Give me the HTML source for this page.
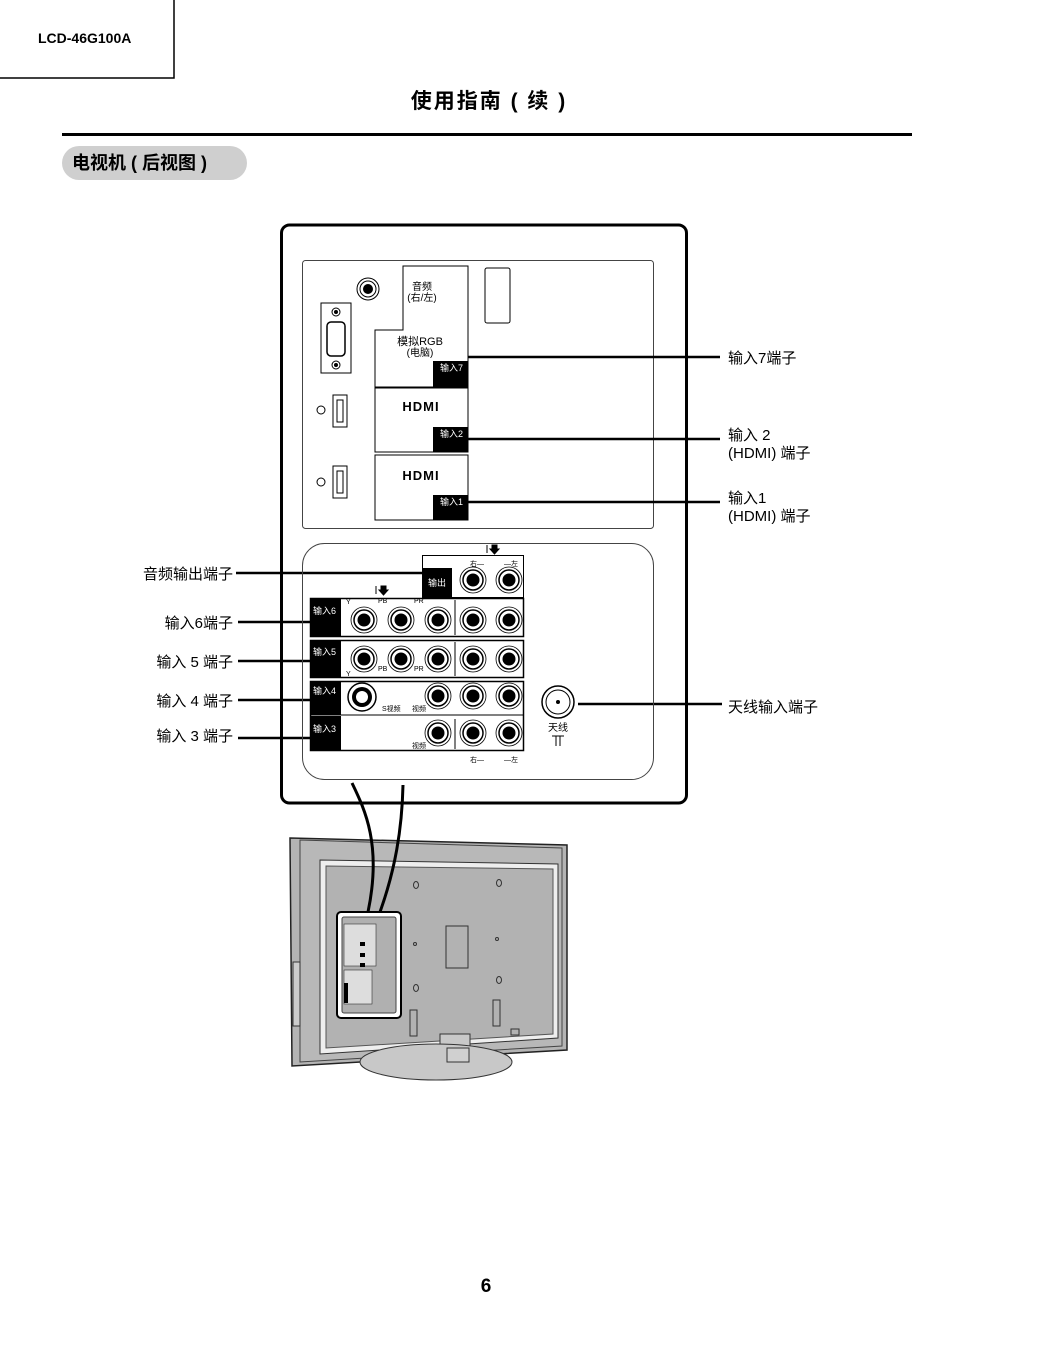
<!DOCTYPE html>
<html><head><meta charset="utf-8"><style>
body{margin:0;background:#fff;}
svg{display:block;font-family:"Liberation Sans","Noto Sans CJK SC",sans-serif;}
</style></head><body>
<svg width="1045" height="1352" viewBox="0 0 1045 1352" xmlns="http://www.w3.org/2000/svg">
<defs>
<g id="rca"><circle r="13" fill="#fff" stroke="#000" stroke-width="0.8"/><circle r="10" fill="none" stroke="#000" stroke-width="1.5"/><circle r="6.5" fill="#000"/></g>
</defs>
<path d="M0 78 H174 V0" fill="none" stroke="#000" stroke-width="1.5"/>
<text x="38" y="43" font-size="14" font-weight="bold">LCD-46G100A</text>
<text x="489" y="108" font-size="21" font-weight="bold" text-anchor="middle" letter-spacing="2">使用指南 ( 续 )</text>
<rect x="62" y="133" width="850" height="3" fill="#000"/>
<rect x="62" y="146" width="185" height="34" rx="17" fill="#cfcfcf"/>
<text x="72" y="169" font-size="18" font-weight="bold">电视机 ( 后视图 )</text>

<rect x="281.5" y="225" width="405" height="578" rx="8" fill="#fff" stroke="#000" stroke-width="3"/>
<rect x="302.5" y="260.5" width="351" height="268" rx="3" fill="none" stroke="#444" stroke-width="1"/>
<circle cx="368" cy="289" r="11" fill="none" stroke="#000"/><circle cx="368" cy="289" r="8" fill="none" stroke="#000"/><circle cx="368" cy="289" r="5" fill="#000"/>
<rect x="321" y="303" width="30" height="70" fill="none" stroke="#000"/>
<circle cx="336" cy="312" r="4" fill="none" stroke="#000"/><circle cx="336" cy="312" r="2" fill="#000"/>
<circle cx="336" cy="365" r="4" fill="none" stroke="#000"/><circle cx="336" cy="365" r="2" fill="#000"/>
<rect x="327" y="322" width="18" height="34" rx="4" fill="none" stroke="#000" stroke-width="1.5"/>
<rect x="485" y="268" width="25" height="55" rx="2" fill="none" stroke="#000"/>
<path d="M375 387 V330 H403 V266 H468 V387 Z" fill="none" stroke="#000"/>
<text x="422" y="290" font-size="10" text-anchor="middle">音频</text>
<text x="422" y="301" font-size="10" text-anchor="middle">(右/左)</text>
<text x="420" y="345" font-size="11" text-anchor="middle">模拟RGB</text>
<text x="420" y="356" font-size="10" text-anchor="middle">(电脑)</text>
<rect x="433" y="361" width="35" height="26" fill="#000"/>
<text x="440" y="371" font-size="9" fill="#fff">输入7</text>
<rect x="375" y="388" width="93" height="64" fill="none" stroke="#000"/>
<text x="421" y="411" font-size="13" font-weight="900" text-anchor="middle" letter-spacing="1">HDMI</text>
<rect x="433" y="427" width="35" height="25" fill="#000"/>
<text x="440" y="437" font-size="9" fill="#fff">输入2</text>
<rect x="375" y="455" width="93" height="65" fill="none" stroke="#000"/>
<text x="421" y="480" font-size="13" font-weight="900" text-anchor="middle" letter-spacing="1">HDMI</text>
<rect x="433" y="495" width="35" height="25" fill="#000"/>
<text x="440" y="505" font-size="9" fill="#fff">输入1</text>
<circle cx="321" cy="410" r="4" fill="none" stroke="#000"/>
<rect x="333" y="395" width="14" height="32" fill="none" stroke="#000"/>
<rect x="337" y="400" width="6" height="22" fill="none" stroke="#000"/>
<circle cx="321" cy="482" r="4" fill="none" stroke="#000"/>
<rect x="333" y="466" width="14" height="32" fill="none" stroke="#000"/>
<rect x="337" y="471" width="6" height="22" fill="none" stroke="#000"/>
<g stroke="#000" stroke-width="2.5">
<line x1="468" y1="357" x2="720" y2="357"/><line x1="468" y1="439" x2="720" y2="439"/><line x1="468" y1="502" x2="720" y2="502"/>
<line x1="236" y1="573" x2="422" y2="573"/>
<line x1="238" y1="622" x2="310" y2="622"/><line x1="238" y1="661" x2="310" y2="661"/>
<line x1="238" y1="700" x2="310" y2="700"/><line x1="238" y1="738" x2="310" y2="738"/>
<line x1="578" y1="704" x2="722" y2="704"/>
</g>
<g font-size="15">
<text x="728" y="363">输入7端子</text>
<text x="728" y="440">输入 2</text><text x="728" y="458">(HDMI) 端子</text>
<text x="728" y="503">输入1</text><text x="728" y="521">(HDMI) 端子</text>
<text x="728" y="712">天线输入端子</text>
<text x="233" y="579" text-anchor="end">音频输出端子</text>
<text x="233" y="628" text-anchor="end">输入6端子</text>
<text x="233" y="667" text-anchor="end">输入 5 端子</text>
<text x="233" y="706" text-anchor="end">输入 4 端子</text>
<text x="233" y="741" text-anchor="end">输入 3 端子</text>
</g>
<rect x="302.5" y="543.5" width="351" height="236" rx="22" fill="none" stroke="#444"/>
<rect x="422.5" y="555.5" width="101" height="42" fill="none" stroke="#000"/>
<rect x="422" y="568" width="30" height="30" fill="#000"/><text x="428" y="586" font-size="9" fill="#fff">输出</text>
<rect x="310.5" y="598.5" width="213" height="38" fill="none" stroke="#000" stroke-width="1.5"/>
<rect x="310.5" y="640.5" width="213" height="37" fill="none" stroke="#000" stroke-width="1.5"/>
<rect x="310.5" y="681.5" width="213" height="69" fill="none" stroke="#000" stroke-width="1.5"/>
<line x1="310" y1="715" x2="523" y2="715" stroke="#000"/>
<g stroke="#000"><line x1="455" y1="600" x2="455" y2="635"/><line x1="455" y1="642" x2="455" y2="676"/><line x1="455" y1="719" x2="455" y2="749"/></g>
<g fill="#000"><rect x="310" y="599" width="31" height="37"/><rect x="310" y="641" width="31" height="36"/><rect x="310" y="682" width="31" height="33"/><rect x="310" y="716" width="31" height="35"/></g>
<g font-size="9" fill="#fff"><text x="313" y="614">输入6</text><text x="313" y="655">输入5</text><text x="313" y="694">输入4</text><text x="313" y="732">输入3</text></g>
<use href="#rca" x="473" y="580"/><use href="#rca" x="509" y="580"/>
<use href="#rca" x="364" y="620"/><use href="#rca" x="401" y="620"/><use href="#rca" x="438" y="620"/><use href="#rca" x="473" y="620"/><use href="#rca" x="509" y="620"/>
<use href="#rca" x="364" y="659"/><use href="#rca" x="401" y="659"/><use href="#rca" x="438" y="659"/><use href="#rca" x="473" y="659"/><use href="#rca" x="509" y="659"/>
<use href="#rca" x="438" y="696"/><use href="#rca" x="473" y="696"/><use href="#rca" x="509" y="696"/>
<use href="#rca" x="438" y="733"/><use href="#rca" x="473" y="733"/><use href="#rca" x="509" y="733"/>
<circle cx="362" cy="697" r="14" fill="none" stroke="#000" stroke-width="1.5"/><circle cx="362" cy="697" r="10" fill="#000"/>
<circle cx="362" cy="697" r="6" fill="#fff"/>
<g font-size="7"><text x="346" y="604">Y</text><text x="378" y="603">PB</text><text x="414" y="603">PR</text>
<text x="346" y="676">Y</text><text x="378" y="671">PB</text><text x="414" y="671">PR</text>
<text x="382" y="711">S视频</text><text x="412" y="711">视频</text><text x="412" y="748">视频</text>
<text x="470" y="566">右—</text><text x="504" y="566">—左</text><text x="470" y="762">右—</text><text x="504" y="762">—左</text></g>
<path d="M376 586 v8 M381 586 h5 v4 h2 l-4.5 5 -4.5 -5 h2z" stroke="#000" fill="#000"/>
<path d="M487 545 v8 M492 545 h5 v4 h2 l-4.5 5 -4.5 -5 h2z" stroke="#000" fill="#000"/>
<circle cx="558" cy="702" r="16" fill="none" stroke="#000" stroke-width="1.5"/><circle cx="558" cy="702" r="12" fill="none" stroke="#000"/><circle cx="558" cy="702" r="2" fill="#000"/>
<text x="558" y="731" font-size="10" text-anchor="middle">天线</text>
<path d="M552 736 h12 M556 736 v10 M560 736 v10" stroke="#000"/>
<!-- TV -->
<path d="M290 838 L567 845 L567 1050 L292 1066 Z" fill="#b4b4b4" stroke="#222" stroke-width="1.5"/>
<path d="M300 840 L562 848 L562 1046 L300 1062 Z" fill="#b8b8b8" stroke="#444"/>
<path d="M320 860 L558 864 L558 1038 L320 1054 Z" fill="#eee" stroke="#333"/>
<path d="M326 866 L553 869 L553 1034 L326 1048 Z" fill="#b2b2b2" stroke="#555"/>
<rect x="293" y="962" width="7" height="64" fill="#ccc" stroke="#333"/>
<rect x="337" y="912" width="64" height="106" rx="4" fill="#fff" stroke="#000" stroke-width="2"/>
<rect x="342" y="917" width="54" height="96" rx="2" fill="#b0b0b0" stroke="#444"/>
<rect x="344" y="924" width="32" height="42" fill="#ddd" stroke="#333" stroke-width="0.6"/>
<rect x="344" y="970" width="28" height="34" fill="#ddd" stroke="#333" stroke-width="0.6"/>
<g fill="#000"><rect x="360" y="942" width="5" height="4"/><rect x="360" y="953" width="5" height="4"/><rect x="360" y="963" width="5" height="4"/><rect x="344" y="983" width="4" height="20"/></g>
<rect x="446" y="926" width="22" height="42" fill="none" stroke="#333"/>
<g fill="none" stroke="#333"><ellipse cx="416" cy="885" rx="2.5" ry="3.5"/><ellipse cx="499" cy="883" rx="2.5" ry="3.5"/><ellipse cx="416" cy="988" rx="2.5" ry="3.5"/><ellipse cx="499" cy="980" rx="2.5" ry="3.5"/><circle cx="415" cy="944" r="1.5"/><circle cx="497" cy="939" r="1.5"/></g>
<rect x="410" y="1010" width="7" height="26" fill="none" stroke="#333"/><rect x="493" y="1000" width="7" height="26" fill="none" stroke="#333"/>
<rect x="511" y="1029" width="8" height="6" fill="none" stroke="#333"/>
<path d="M440 1034 h30 v24 h-30z" fill="#c8c8c8" stroke="#333"/>
<ellipse cx="436" cy="1062" rx="76" ry="18" fill="#c8c8c8" stroke="#333"/>
<path d="M447 1048 h22 v14 h-22z" fill="#d0d0d0" stroke="#333"/>
<!-- cables -->
<path d="M352 783 C365 810,382 845,368 912" fill="none" stroke="#000" stroke-width="3"/>
<path d="M403 785 C402 830,395 870,380 912" fill="none" stroke="#000" stroke-width="3"/>
<text x="486" y="1292" font-size="19" font-weight="bold" text-anchor="middle">6</text>
</svg>
</body></html>
